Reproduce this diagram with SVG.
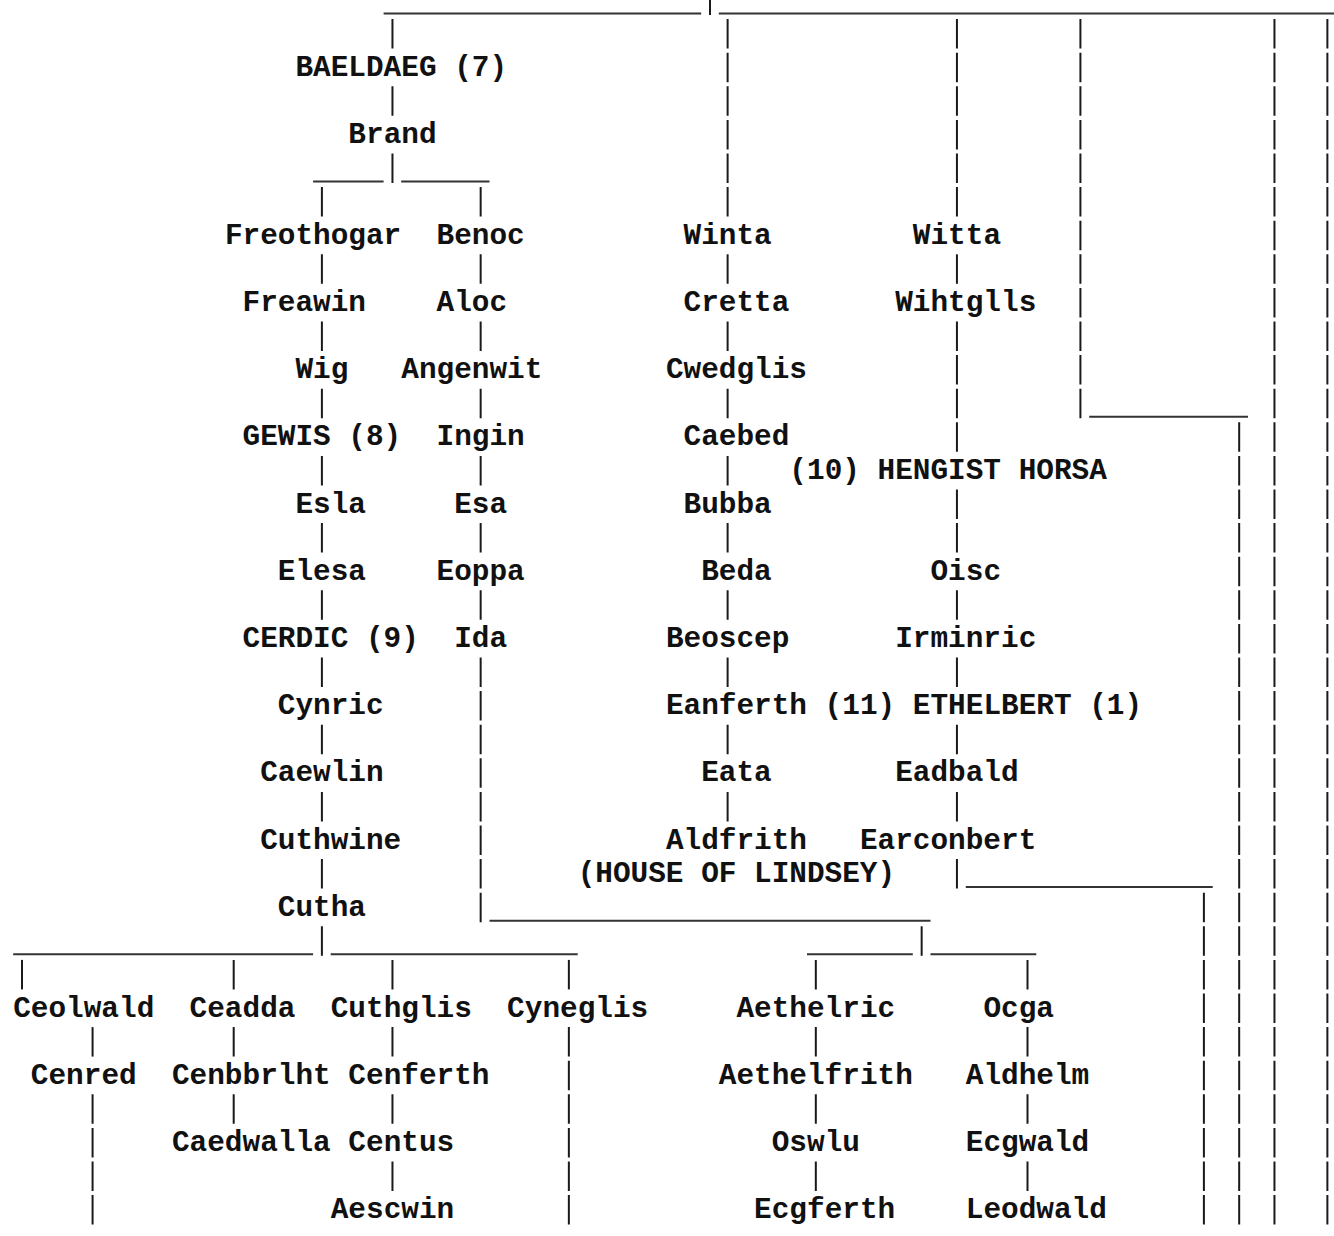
<svg xmlns="http://www.w3.org/2000/svg" width="1334" height="1236" viewBox="0 0 1334 1236">
<style>
text{font-family:"Liberation Mono","Courier New",monospace;font-weight:bold;font-size:29.4px;fill:#111}
.c line{stroke:#1a1a1a;stroke-width:2}
.c .p1{stroke-dasharray:29.5 4.1}
.c .p2{stroke-dasharray:29.5 37.7}
.c .h{stroke:#333;stroke-width:2}
</style>
<rect width="1334" height="1236" fill="#fff"/>
<g id="connectors" class="c">
<!-- horizontal underscores -->
<line class="h" x1="383.6" y1="13.5" x2="701.2" y2="13.5"/>
<line class="h" x1="718.8" y1="13.5" x2="1334" y2="13.5"/>
<line class="h" x1="313.1" y1="181.5" x2="383.6" y2="181.5"/>
<line class="h" x1="401.2" y1="181.5" x2="489.5" y2="181.5"/>
<line class="h" x1="1089.2" y1="416.7" x2="1248" y2="416.7"/>
<line class="h" x1="965.8" y1="887.1" x2="1212.7" y2="887.1"/>
<line class="h" x1="489.5" y1="920.7" x2="930.5" y2="920.7"/>
<line class="h" x1="13.2" y1="954.3" x2="313.1" y2="954.3"/>
<line class="h" x1="330.7" y1="954.3" x2="577.7" y2="954.3"/>
<line class="h" x1="807" y1="954.3" x2="912.8" y2="954.3"/>
<line class="h" x1="930.5" y1="954.3" x2="1036.3" y2="954.3"/>
<!-- vertical pipes -->
<line x1="709.98" y1="0" x2="709.98" y2="15"/>
<line class="p2" x1="392.46" y1="19.1" x2="392.46" y2="183"/>
<line class="p2" x1="321.9" y1="187.1" x2="321.9" y2="955.8"/>
<line class="p2" x1="480.66" y1="187.1" x2="480.66" y2="619.8"/>
<line class="p1" x1="480.66" y1="657.5" x2="480.66" y2="922.2"/>
<line class="p1" x1="727.62" y1="19.1" x2="727.62" y2="216.6"/>
<line class="p2" x1="727.62" y1="254.3" x2="727.62" y2="821.4"/>
<line class="p1" x1="956.94" y1="19.1" x2="956.94" y2="216.6"/>
<line x1="956.94" y1="254.3" x2="956.94" y2="283.8"/>
<line class="p1" x1="956.94" y1="321.5" x2="956.94" y2="451.8"/>
<line class="p1" x1="956.94" y1="489.5" x2="956.94" y2="552.6"/>
<line class="p2" x1="956.94" y1="590.3" x2="956.94" y2="888.6"/>
<line class="p1" x1="1080.42" y1="19.1" x2="1080.42" y2="418.2"/>
<line class="p1" x1="1239.18" y1="422.3" x2="1239.18" y2="1224.6"/>
<line class="p1" x1="1274.46" y1="19.1" x2="1274.46" y2="1224.6"/>
<line class="p1" x1="1327.38" y1="19.1" x2="1327.38" y2="1224.6"/>
<line class="p1" x1="1203.9" y1="892.7" x2="1203.9" y2="1224.6"/>
<line x1="921.66" y1="926.3" x2="921.66" y2="955.8"/>
<line x1="22.02" y1="959.9" x2="22.02" y2="989.4"/>
<line x1="92.58" y1="1027.1" x2="92.58" y2="1056.6"/>
<line class="p1" x1="92.58" y1="1094.3" x2="92.58" y2="1224.6"/>
<line class="p2" x1="233.7" y1="959.9" x2="233.7" y2="1123.8"/>
<line class="p2" x1="392.46" y1="959.9" x2="392.46" y2="1191"/>
<line x1="568.86" y1="959.9" x2="568.86" y2="989.4"/>
<line class="p1" x1="568.86" y1="1027.1" x2="568.86" y2="1224.6"/>
<line class="p2" x1="815.82" y1="959.9" x2="815.82" y2="1191"/>
<line class="p2" x1="1027.5" y1="959.9" x2="1027.5" y2="1191"/>
</g>
<g id="n-baeldaeg"><text x="295.44" y="75.7">BAELDAEG (7)</text></g>
<g id="n-brand"><text x="348.36" y="142.9">Brand</text></g>
<g id="n-freothogar"><text x="224.88" y="243.7">Freothogar</text></g>
<g id="n-benoc"><text x="436.56" y="243.7">Benoc</text></g>
<g id="n-winta"><text x="683.52" y="243.7">Winta</text></g>
<g id="n-witta"><text x="912.84" y="243.7">Witta</text></g>
<g id="n-freawin"><text x="242.52" y="310.9">Freawin</text></g>
<g id="n-aloc"><text x="436.56" y="310.9">Aloc</text></g>
<g id="n-cretta"><text x="683.52" y="310.9">Cretta</text></g>
<g id="n-wihtglls"><text x="895.2" y="310.9">Wihtglls</text></g>
<g id="n-wig"><text x="295.44" y="378.1">Wig</text></g>
<g id="n-angenwit"><text x="401.28" y="378.1">Angenwit</text></g>
<g id="n-cwedglis"><text x="665.88" y="378.1">Cwedglis</text></g>
<g id="n-gewis"><text x="242.52" y="445.3">GEWIS (8)</text></g>
<g id="n-ingin"><text x="436.56" y="445.3">Ingin</text></g>
<g id="n-caebed"><text x="683.52" y="445.3">Caebed</text></g>
<g id="n-hengist"><text x="789.36" y="478.9">(10) HENGIST</text></g>
<g id="n-horsa"><text x="1018.68" y="478.9">HORSA</text></g>
<g id="n-esla"><text x="295.44" y="512.5">Esla</text></g>
<g id="n-esa"><text x="454.2" y="512.5">Esa</text></g>
<g id="n-bubba"><text x="683.52" y="512.5">Bubba</text></g>
<g id="n-elesa"><text x="277.8" y="579.7">Elesa</text></g>
<g id="n-eoppa"><text x="436.56" y="579.7">Eoppa</text></g>
<g id="n-beda"><text x="701.16" y="579.7">Beda</text></g>
<g id="n-oisc"><text x="930.48" y="579.7">Oisc</text></g>
<g id="n-cerdic"><text x="242.52" y="646.9">CERDIC (9)</text></g>
<g id="n-ida"><text x="454.2" y="646.9">Ida</text></g>
<g id="n-beoscep"><text x="665.88" y="646.9">Beoscep</text></g>
<g id="n-irminric"><text x="895.2" y="646.9">Irminric</text></g>
<g id="n-cynric"><text x="277.8" y="714.1">Cynric</text></g>
<g id="n-eanferth"><text x="665.88" y="714.1">Eanferth (11)</text></g>
<g id="n-ethelbert"><text x="912.84" y="714.1">ETHELBERT (1)</text></g>
<g id="n-caewlin"><text x="260.16" y="781.3">Caewlin</text></g>
<g id="n-eata"><text x="701.16" y="781.3">Eata</text></g>
<g id="n-eadbald"><text x="895.2" y="781.3">Eadbald</text></g>
<g id="n-cuthwine"><text x="260.16" y="848.5">Cuthwine</text></g>
<g id="n-aldfrith"><text x="665.88" y="848.5">Aldfrith</text></g>
<g id="n-earconbert"><text x="859.92" y="848.5">Earconbert</text></g>
<g id="n-lindsey"><text x="577.68" y="882.1">(HOUSE OF LINDSEY)</text></g>
<g id="n-cutha"><text x="277.8" y="915.7">Cutha</text></g>
<g id="n-ceolwald"><text x="13.2" y="1016.5">Ceolwald</text></g>
<g id="n-ceadda"><text x="189.6" y="1016.5">Ceadda</text></g>
<g id="n-cuthglis"><text x="330.72" y="1016.5">Cuthglis</text></g>
<g id="n-cyneglis"><text x="507.12" y="1016.5">Cyneglis</text></g>
<g id="n-aethelric"><text x="736.44" y="1016.5">Aethelric</text></g>
<g id="n-ocga"><text x="983.4" y="1016.5">Ocga</text></g>
<g id="n-cenred"><text x="30.84" y="1083.7">Cenred</text></g>
<g id="n-cenbbrlht"><text x="171.96" y="1083.7">Cenbbrlht</text></g>
<g id="n-cenferth"><text x="348.36" y="1083.7">Cenferth</text></g>
<g id="n-aethelfrith"><text x="718.8" y="1083.7">Aethelfrith</text></g>
<g id="n-aldhelm"><text x="965.76" y="1083.7">Aldhelm</text></g>
<g id="n-caedwalla"><text x="171.96" y="1150.9">Caedwalla</text></g>
<g id="n-centus"><text x="348.36" y="1150.9">Centus</text></g>
<g id="n-oswlu"><text x="771.72" y="1150.9">Oswlu</text></g>
<g id="n-ecgwald"><text x="965.76" y="1150.9">Ecgwald</text></g>
<g id="n-aescwin"><text x="330.72" y="1218.1">Aescwin</text></g>
<g id="n-ecgferth"><text x="754.08" y="1218.1">Ecgferth</text></g>
<g id="n-leodwald"><text x="965.76" y="1218.1">Leodwald</text></g>
</svg>
